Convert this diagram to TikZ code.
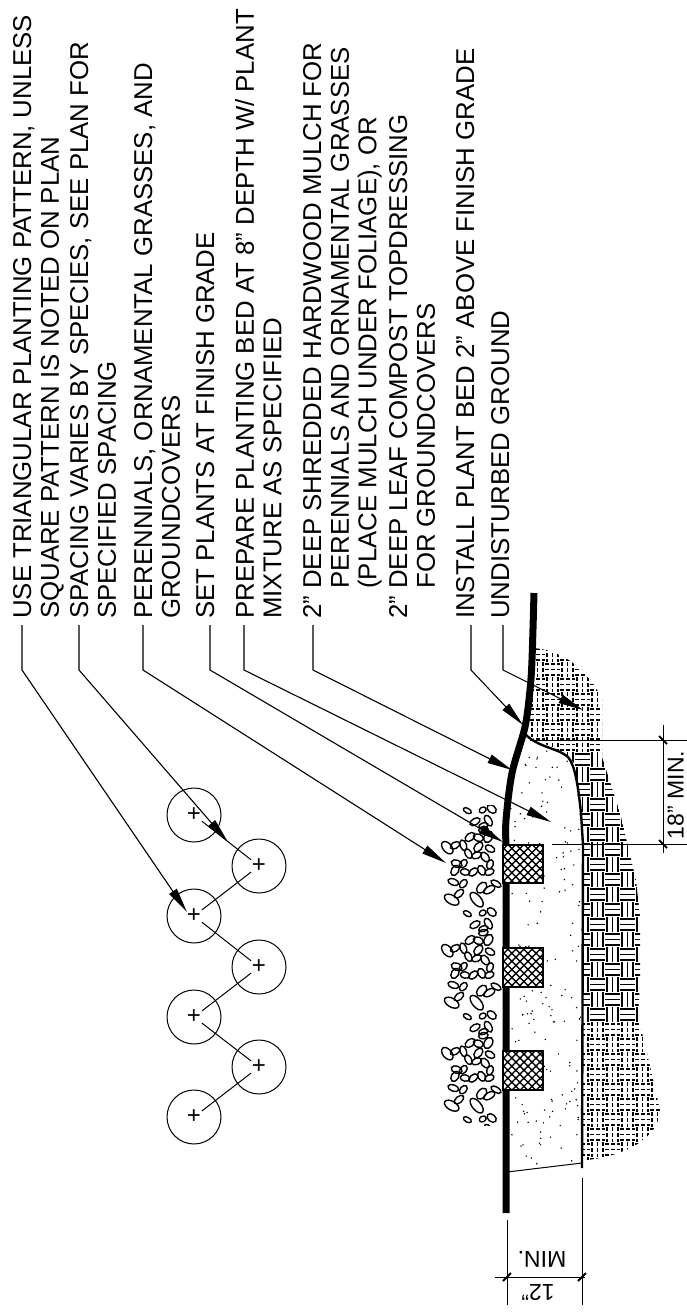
\documentclass[tikz,border=0pt]{standalone}
\usepackage{fontspec}
\setmainfont{Liberation Sans}
\usetikzlibrary{arrows.meta,patterns.meta}
\tikzset{
  callout/.style={rotate=90,anchor=north west,inner sep=0pt,align=left,font=\fontsize{25.8}{27.6}\selectfont},
  dimtext/.style={inner sep=0pt,font=\fontsize{23}{26}\selectfont},
  leader/.style={line width=1.1pt,-{Stealth[length=25pt,width=9pt,inset=0pt]}},
  plantspot/.style={circle,draw,line width=1pt,minimum size=54pt,inner sep=0pt,font=\fontsize{24}{24}\selectfont},
  dimline/.style={line width=1pt},
  tickmark/.style={line width=2pt},
  pebble/.style={line width=1.4pt},
  weavesolid/.style={line width=1.6pt},
  weavebroken/.style={line width=1.5pt,dash pattern=on 3.5pt off 2.6pt}
}
\begin{document}
\begin{tikzpicture}[x=1pt,y=-1pt]
\useasboundingbox (0,0) rectangle (687,1312);
% notes
\node[callout] (usenote) at (13,619) {USE TRIANGULAR PLANTING PATTERN, UNLESS\\SQUARE PATTERN IS NOTED ON PLAN};
\node[callout] (spacenote) at (70,619) {SPACING VARIES BY SPECIES, SEE PLAN FOR\\SPECIFIED SPACING};
\node[callout] (perennote) at (134,619) {PERENNIALS, ORNAMENTAL GRASSES, AND\\GROUNDCOVERS};
\node[callout] (setnote) at (196,619) {SET PLANTS AT FINISH GRADE};
\node[callout] (prepnote) at (235,619) {PREPARE PLANTING BED AT 8" DEPTH W/ PLANT\\MIXTURE AS SPECIFIED};
\node[callout] (mulchnote) at (303,619) {2" DEEP SHREDDED HARDWOOD MULCH FOR\\\phantom{2" }PERENNIALS AND ORNAMENTAL GRASSES\\\phantom{2" }(PLACE MULCH UNDER FOLIAGE), OR};
\node[callout] (leafnote) at (389,619) {2" DEEP LEAF COMPOST TOPDRESSING\\\phantom{2" }FOR GROUNDCOVERS};
\node[callout] (installnote) at (456,619) {INSTALL PLANT BED 2" ABOVE FINISH GRADE};
\node[callout] (groundnote) at (491,619) {UNDISTURBED GROUND};
% plan of plants
\foreach \nm/\xx/\yy in {a/194/815,b/259/866,c/194/916,d/259/967,e/194/1017,f/259/1067,g/194/1117}
  \node[plantspot] (spot\nm) at (\xx,\yy) {+};
\foreach \aa/\bb in {a/b,b/c,c/d,d/e,e/f,f/g}
  \draw[line width=1pt,shorten <=10pt,shorten >=10pt] (spot\aa.center) -- (spot\bb.center);
% undisturbed ground
\begin{scope}
\clip (530,648) .. controls (560,648) and (590,670) .. (602,700) -- (602,757) -- (620,813) -- (636,880) -- (640,917) -- (640,983) -- (638,1017) -- (647,1053) -- (660,1110) .. controls (660,1135) and (630,1155) .. (587,1160) -- (530,1160) -- cycle;
\foreach \i in {0,...,9}
  \foreach \j in {0,...,34} {
    \pgfmathtruncatemacro\odd{mod(\i+\j,2)}
    \pgfmathsetmacro\cx{530+15*\i}
    \pgfmathsetmacro\cy{647+15*\j}
    \ifnum\j<7 \def\sty{weavebroken}\else\ifnum\j>24 \def\sty{weavebroken}\else\def\sty{weavesolid}\fi\fi
    \foreach \oo in {2,7.5,13} {
      \ifnum\odd=0
        \draw[\sty] (\cx,\cy+\oo) -- (\cx+15,\cy+\oo);
      \else
        \draw[\sty] (\cx+\oo,\cy) -- (\cx+\oo,\cy+15);
      \fi
    }
  }
\end{scope}
% planting bed
\coordinate (bedtop) at (526,735);
\coordinate (bedfoot) at (582,1168);
\fill[white] (bedtop) -- (564,753) -- (574,763) -- (583,845) -- (582,1163) -- (507,1172) -- (506,845) -- (512,773) -- cycle;
\begin{scope}
\clip (bedtop) -- (564,753) -- (574,763) -- (583,845) -- (582,1163) -- (507,1172) -- (506,845) -- (512,773) -- cycle;
\pgfmathsetseed{41}
\foreach \n in {1,...,180}
  \fill (510+72*rnd,738+430*rnd) circle (0.8);
\end{scope}
\draw[line width=2.4pt] (bedtop) .. controls (540,748) and (558,748) .. (568,757) .. controls (575,765) and (578,785) .. (581,813) -- (583,845) -- (bedfoot);
\draw[line width=1pt] (582,1163) -- (507,1172);
% mulch
\draw[line width=7pt] plot[smooth] coordinates {(534,593) (532,660) (530,690) (525,727) (512,773) (506,820) (506,845)} -- (506,1213);
% plants
\foreach \yy/\yb in {845/883,948/987,1051/1090} {
  \fill[white] (503,\yy) rectangle (543,\yb);
  \fill[pattern={Lines[angle=45,distance=5.7pt,line width=1.4pt]}] (503,\yy) rectangle (543,\yb);
  \fill[pattern={Lines[angle=-45,distance=5.7pt,line width=1.4pt]}] (503,\yy) rectangle (543,\yb);
  \draw[line width=1.5pt] (503,\yy) rectangle (543,\yb);
}
% leaf mulch
\begin{scope}
\clip (440,805) rectangle (502,1125);
\foreach \sh in {-206,-103,0,103}
  \foreach \xx/\yy/\rx/\ry/\an in {22/62/18/11/-50,45/55/13/8/30,70/55/14/8/-70,90/30/14/9/40,115/32/13/9/-20,145/30/15/10/60,130/8/12/8/10,150/65/13/8/-30,115/60/14/9/50,85/80/13/8/-60,110/85/13/8/20,135/90/14/9/-50,150/112/12/8/70,50/110/14/9/-20,70/110/12/8/50,45/130/14/9/60,75/135/12/8/-10,100/135/13/8/40,125/130/13/9/-60,148/135/12/8/20,40/165/14/8/-20,70/170/12/8/50,35/218/20/11/-30,57/200/14/8/40,110/218/22/11/-50,125/182/16/10/50,148/188/16/8/30,168/170/14/7/-30,82/260/11/6/-30,105/293/14/8/30,145/290/15/8/-60,130/305/12/7/20,155/255/13/9/-40,128/258/9/7/30}
    \draw[pebble,shift={(440+\xx/3,930+\yy/3+\sh)},rotate=\an] (0,0) ellipse ({\rx/2.5} and {\ry/2.5});
\end{scope}
% leaders
\foreach \nm/\xx/\tx/\ty in {use/22/187/912,space/79/228/842,peren/143/446/863,set/210/503/842,prep/244/551/822,mulch/313/512/770,install/471/523/725,ground/503/583/710} {
  \coordinate (\nm foot) at (\xx,625);
  \coordinate (\nm tip) at (\tx,\ty);
  \draw[leader] (\nm foot) -- ++(0,45) -- (\nm tip);
}
% 18 in dimension
\coordinate (wideup) at (530,740);
\coordinate (widedn) at (552,844);
\coordinate (wideupend) at (687,740);
\coordinate (widednend) at (687,844);
\coordinate (wideupmk) at (663,740);
\coordinate (widednmk) at (663,844);
\draw[dimline] (wideup) -- (wideupend);
\draw[dimline] (widedn) -- (widednend);
\draw[dimline] (663,725) -- (663,853);
\draw[tickmark] (wideupmk) +(-4,-4) -- +(4,4);
\draw[tickmark] (widednmk) +(-4,-4) -- +(4,4);
\node[dimtext,rotate=90,anchor=south] (widelabel) at (684,795) {18" MIN.};
% 12 in dimension
\coordinate (deepl) at (507,1220);
\coordinate (deepr) at (582,1178);
\coordinate (deepa) at (495,1277);
\coordinate (deepb) at (585,1277);
\coordinate (deeplmk) at (507,1277);
\coordinate (deeprmk) at (582,1277);
\draw[dimline] (deepl) -- (507,1305);
\draw[dimline] (deepr) -- (582,1305);
\draw[dimline] (deepa) -- (deepb);
\draw[tickmark] (deeplmk) +(-4,4) -- +(4,-4);
\draw[tickmark] (deeprmk) +(-4,4) -- +(4,-4);
\node[dimtext,rotate=180] (minlabel) at (542,1259) {MIN.};
\node[dimtext,rotate=180] (deeplabel) at (538,1293) {12"};
\end{tikzpicture}
\end{document}
